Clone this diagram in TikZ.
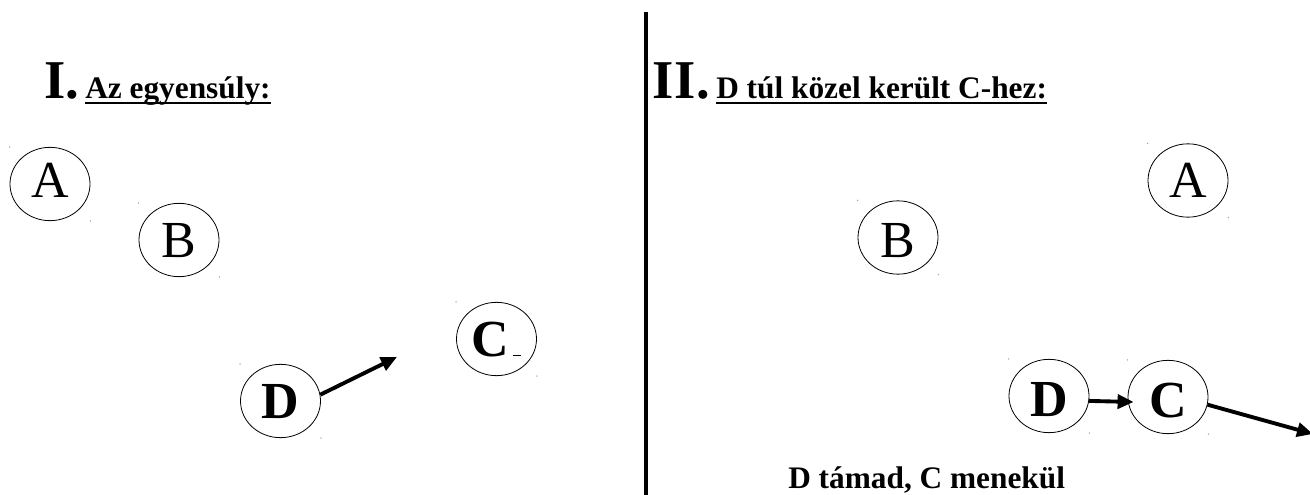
\documentclass[tikz,border=0pt]{standalone}
\usepackage{fontspec}
\setmainfont{Liberation Serif}
\usetikzlibrary{shapes.geometric,arrows.meta,calc}
\begin{document}
\begin{tikzpicture}[x=0.75pt,y=-0.75pt,
  agent/.style={ellipse,draw,line width=0.6pt,minimum width=60pt,minimum height=55pt,
    inner sep=0pt,font=\fontsize{39}{39}\selectfont,text height=26pt,text depth=0pt},
  bigagent/.style={agent,font=\fontsize{39}{39}\selectfont\bfseries},
  numeral/.style={anchor=base west,inner sep=0pt,font=\fontsize{41}{41}\selectfont\bfseries},
  heading/.style={anchor=base west,inner sep=0pt,font=\fontsize{23.5}{23.5}\selectfont\bfseries},
  uline/.style={line width=1.3pt},
  arr/.style={line width=2.9pt,-{Triangle[length=12pt,width=10.5pt]}},
  corner/.style={fill=gray!70},
]
\useasboundingbox (0,0) rectangle (1310,495);
\clip (0,0) rectangle (1310,495);

% dividing line
\draw[line width=2.6pt] (646,12) -- (646,495);

% section I
\node[numeral] (numI) at (44,99) {I.};
\node[heading] (headI) at (85,99) {Az egyensúly:};
\draw[uline] ([yshift=-3pt]headI.base west) -- ([yshift=-3pt]headI.base east);

\node[agent] (Al) at (50,184) {\raisebox{3pt}{A}};
\node[agent] (Bl) at (179,240) {B};
\node[bigagent] (Dl) at (280.5,401) {D};
\node[bigagent] (Cl) at (496.5,339) {C\kern3pt\rule[0pt]{6pt}{1pt}};
\coordinate (tipL) at (397,357);
\draw[arr] (Dl.9) -- (tipL);

% section II
\node[numeral] (numII) at (652,99) {I\kern1pt I.};
\node[heading] (headII) at (716,99) {D túl közel került C-hez:};
\draw[uline] ([yshift=-3pt]headII.base west) -- ([yshift=-3pt]headII.base east);

\node[agent] (Br) at (898,237.5) {\raisebox{-2pt}{B}};
\node[agent] (Ar) at (1188,180.5) {A};
\node[bigagent] (Dr) at (1049,396) {\raisebox{-2pt}{D}};
\node[bigagent] (Cr) at (1168,397) {\raisebox{-2pt}{C}};
\coordinate (tipR) at (1313,434);
\draw[arr] (Dr.-7) -- ([shift={(6,5)}]Cr.west);
\draw[arr] (Cr.-11) -- (tipR);

\node[heading] (caption) at (788,488) {D támad, C menekül};

% selection corner marks
\foreach \n in {Al,Bl,Dl,Cl,Br,Ar,Dr,Cr}{
  \fill[corner] (\n.west |- \n.north) circle (0.6pt);
  \fill[corner] (\n.east |- \n.south) circle (0.6pt);
}
\end{tikzpicture}
\end{document}
